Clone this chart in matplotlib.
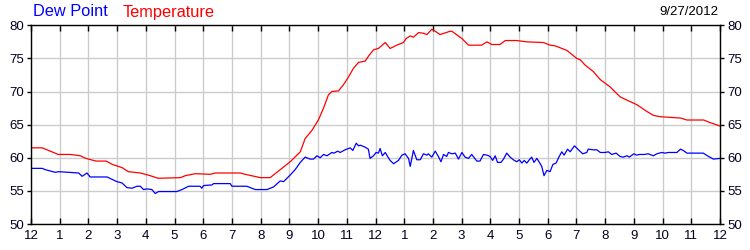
import matplotlib
matplotlib.use("Agg")
import matplotlib.pyplot as plt

plt.rcParams['font.family'] = ['Liberation Sans', 'DejaVu Sans']

temp_hours = [0.0, 0.39, 0.67, 0.95, 1.37, 1.72, 1.86, 2.0, 2.27, 2.62, 2.83, 3.18, 3.39, 3.81, 4.15, 4.43,
              5.2, 5.38, 5.73, 6.24, 6.42, 7.29, 7.46, 7.99, 8.33, 8.68, 9.03, 9.38, 9.55, 9.78, 10.01,
              10.19, 10.36, 10.48, 10.71, 10.88, 11.06, 11.23, 11.41, 11.64, 11.75, 11.93, 12.10, 12.34,
              12.51, 12.74, 12.97, 13.07, 13.21, 13.32, 13.50, 13.67, 13.79, 13.96, 14.08, 14.25, 14.60,
              14.66, 15.01, 15.24, 15.70, 15.88, 16.05, 16.34, 16.52, 16.92, 17.27, 17.85, 18.08, 18.26,
              18.67, 19.01, 19.13, 19.30, 19.59, 19.83, 20.17, 20.52, 20.76, 21.11, 21.45, 21.68, 21.92,
              22.62, 22.85, 23.43, 23.66, 24.0]
temp_values = [61.5, 61.5, 61.0, 60.5, 60.5, 60.3, 60.0, 59.8, 59.5, 59.5, 59.0, 58.5, 57.9, 57.7, 57.3, 56.9,
               57.0, 57.3, 57.6, 57.5, 57.7, 57.7, 57.5, 57.0, 57.0, 58.2, 59.4, 60.9, 62.9, 64.1, 65.7,
               67.5, 69.5, 70.0, 70.1, 71.0, 72.2, 73.5, 74.4, 74.6, 75.3, 76.3, 76.5, 77.4,
               76.5, 77.0, 77.4, 78.0, 78.4, 78.2, 78.9, 78.8, 78.6, 79.4, 79.1, 78.6, 79.1,
               79.1, 78.0, 77.0, 77.0, 77.5, 77.1, 77.1, 77.7, 77.7, 77.5, 77.4, 77.0, 76.9,
               76.2, 75.0, 74.8, 74.0, 73.0, 71.8, 70.7, 69.2, 68.7, 68.0, 67.0, 66.4, 66.2,
               66.0, 65.7, 65.7, 65.3, 64.8]

dew_hours = [0.0, 0.39, 0.5, 0.85, 0.96, 1.31, 1.66, 1.78, 1.95, 2.06, 2.65, 2.99, 3.17, 3.34, 3.52, 3.69,
             3.81, 3.92, 4.04, 4.21, 4.33, 4.44, 5.08, 5.26, 5.49, 5.89, 5.95, 6.01, 6.30, 6.36, 6.94,
             7.0, 7.52, 7.81, 8.22, 8.45, 8.68, 8.80, 9.03, 9.20, 9.38, 9.55, 9.72, 9.84, 9.96, 10.07,
             10.19, 10.31, 10.48, 10.56, 10.68, 10.77, 10.94, 11.12, 11.21, 11.33, 11.41, 11.47, 11.64,
             11.75, 11.81, 11.93, 12.02, 12.10, 12.16, 12.24, 12.34, 12.42, 12.51, 12.63, 12.80, 12.92,
             13.03, 13.15, 13.21, 13.32, 13.44, 13.56, 13.67, 13.79, 13.84, 13.96, 14.08, 14.19, 14.28,
             14.37, 14.48, 14.54, 14.66, 14.78, 14.89, 15.01, 15.12, 15.24, 15.35, 15.53, 15.64, 15.76,
             15.88, 15.99, 16.08, 16.17, 16.25, 16.37, 16.46, 16.57, 16.69, 16.80, 16.92, 17.01, 17.10,
             17.18, 17.27, 17.36, 17.44, 17.52, 17.62, 17.71, 17.79, 17.87, 17.97, 18.08, 18.18, 18.29,
             18.40, 18.49, 18.57, 18.69, 18.78, 18.93, 19.07, 19.22, 19.36, 19.41, 19.59, 19.71, 19.83,
             20.0, 20.11, 20.23, 20.38, 20.52, 20.63, 20.76, 20.84, 21.0, 21.10, 21.19, 21.37, 21.50,
             21.68, 21.80, 21.97, 22.09, 22.20, 22.50, 22.62, 22.72, 22.85, 23.42, 23.60, 23.77, 24.0]
dew_values = [58.4, 58.4, 58.2, 57.8, 57.9, 57.8, 57.7, 57.2, 57.7, 57.1, 57.1, 56.4, 56.2, 55.5, 55.4, 55.7,
              55.7, 55.2, 55.3, 55.2, 54.6, 54.9, 54.9, 55.2, 55.7, 55.7, 55.4, 55.8, 55.9, 56.1, 56.1,
              55.7, 55.7, 55.2, 55.2, 55.6, 56.5, 56.4, 57.4, 58.2, 59.3, 60.1, 59.8, 59.8, 60.3, 60.0,
              60.5, 60.3, 60.8, 60.7, 61.0, 60.8, 61.2, 61.5, 61.1, 62.2, 61.8, 61.9, 61.6,
              61.3, 59.9, 60.3, 60.8, 60.7, 61.4, 60.3, 60.8, 60.2, 59.6, 59.1, 59.6, 60.4,
              60.6, 59.9, 58.7, 61.1, 59.7, 59.7, 60.6, 60.4, 60.6, 60.1, 61.0, 60.2, 59.4,
              60.5, 60.2, 60.8, 60.6, 60.7, 59.8, 60.8, 60.1, 59.9, 60.5, 59.5, 59.5, 60.5,
              60.4, 60.2, 59.6, 60.3, 59.3, 59.3, 59.8, 60.7, 60.1, 59.7, 59.4, 59.7, 59.2,
              59.6, 59.2, 59.7, 60.1, 59.3, 59.9, 59.3, 58.7, 57.3, 58.1, 57.9, 59.0, 59.2,
              60.2, 60.9, 60.4, 61.3, 60.9, 61.8, 61.2, 60.6, 60.8, 61.3, 61.2, 61.2, 60.8,
              60.8, 60.9, 60.5, 60.7, 60.2, 60.1, 60.3, 60.1, 60.6, 60.4, 60.5, 60.5, 60.6,
              60.3, 60.6, 60.8, 60.7, 60.8, 60.8, 61.3, 61.1, 60.7, 60.7, 60.2, 59.8, 59.9]

x_ticks = list(range(0, 25))
x_labels = ['12'] + [str(i) for i in range(1, 12)] + ['12'] + [str(i) for i in range(1, 12)] + ['12']
y_ticks = [50, 55, 60, 65, 70, 75, 80]

fig = plt.figure(figsize=(7.5, 2.5), dpi=100)
ax = fig.add_axes([31/750, 1 - 224/250, (720 - 31)/750, (224 - 25.3)/250])

ax.plot(dew_hours, dew_values, color='#0000ff', lw=0.9)
ax.plot(temp_hours, temp_values, color='#ff0000', lw=0.9)

ax.set_xlim(0, 24)
ax.set_ylim(50, 80)
ax.set_xticks(x_ticks)
ax.set_xticklabels(x_labels)
ax.set_yticks(y_ticks)
ax.grid(True, color='#cccccc', lw=1.0)
ax.set_axisbelow(True)
for s in ax.spines.values():
    s.set_linewidth(1.0)
    s.set_color('black')
ax.tick_params(axis='x', direction='in', top=True, bottom=True, length=4, width=1.0,
               labelsize=9.5, pad=4, colors='black')
ax.tick_params(axis='y', direction='out', left=True, right=True, labelleft=True, labelright=True,
               length=3, width=1.0, labelsize=9.5, pad=2, colors='black')
for lab in ax.get_xticklabels() + ax.get_yticklabels():
    lab.set_color('#000020')

fig.text(33/750, 1 - 12/250, 'Dew Point', color='#0000ff', fontsize=11.8, va='center', ha='left')
fig.text(123/750, 1 - 12/250, 'Temperature', color='#ff0000', fontsize=11.8, va='center', ha='left')
fig.text(718/750, 1 - 12/250, '9/27/2012', color='black', fontsize=9.5, va='center', ha='right')

fig.savefig('out.png', dpi=100)
